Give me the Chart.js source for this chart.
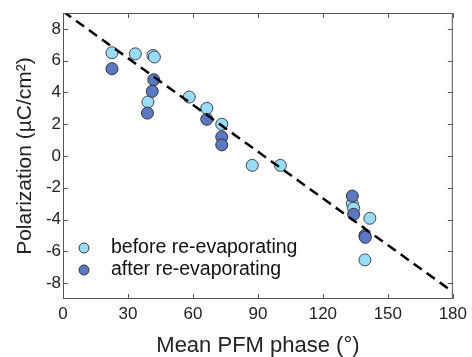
<!DOCTYPE html>
<html>
<head>
<meta charset="utf-8">
<script src="https://cdn.jsdelivr.net/npm/chart.js@4"></script>
<style>
  html, body { margin: 0; padding: 0; background: #fff; }
  #wrap { width: 472px; height: 357px; }
</style>
</head>
<body>
<div id="wrap"><canvas id="chart" width="472" height="357"></canvas></div>
<script>
// values
const beforeX = [22.6, 33.4, 41.5, 42.2, 39.2, 58.3, 66.4, 73.3, 87.4, 100.4, 133.6, 134.2, 141.7, 139.4];
const beforeY = [6.5, 6.43, 6.33, 6.23, 3.4, 3.71, 3.0, 2.0, -0.59, -0.59, -3.0, -3.29, -3.92, -6.54];
const afterX = [22.6, 41.9, 41.2, 39.0, 66.4, 73.3, 73.3, 133.6, 134.2, 139.4, 139.6];
const afterY = [5.49, 4.8, 4.07, 2.7, 2.31, 1.2, 0.7, -2.52, -3.67, -5.0, -5.12];
const fitX = [0, 180];
const fitY = [9.1, -8.55];
const xTicks = [0, 30, 60, 90, 120, 150, 180];
const yTicks = [-8, -6, -4, -2, 0, 2, 4, 6, 8];
const seriesNames = ["before re-evaporating", "after re-evaporating"];
const colors = ["#99dcf8", "#5d78c2"];

const pts = (xs, ys) => xs.map((x, i) => ({ x: x, y: ys[i] }));
const FONT = "'Liberation Sans', Arial, sans-serif";

// box + inward ticks on all four sides
const frameTicks = {
    id: "frameTicks",
    afterDatasetsDraw(chart) {
        const { ctx, chartArea: a, scales } = chart;
        ctx.save();
        ctx.strokeStyle = "#555";
        ctx.lineWidth = 1;
        ctx.strokeRect(a.left + 0.5, a.top + 0.5, a.right - a.left - 1, a.bottom - a.top - 1);
        const len = 5;
        ctx.beginPath();
        xTicks.forEach(v => {
            const px = Math.round(scales.x.getPixelForValue(v)) + 0.5;
            ctx.moveTo(px, a.bottom); ctx.lineTo(px, a.bottom - len);
            ctx.moveTo(px, a.top); ctx.lineTo(px, a.top + len);
        });
        yTicks.forEach(v => {
            const py = Math.round(scales.y.getPixelForValue(v)) + 0.5;
            ctx.moveTo(a.left, py); ctx.lineTo(a.left + len, py);
            ctx.moveTo(a.right, py); ctx.lineTo(a.right - len, py);
        });
        ctx.stroke();
        ctx.restore();
    },
};

// legend sits inside the plot, bottom left
const insideLegend = {
    id: "insideLegend",
    afterDraw(chart) {
        const ctx = chart.ctx;
        ctx.save();
        ctx.font = "19.5px " + FONT;
        ctx.textBaseline = "middle";
        seriesNames.forEach((name, i) => {
            const y = 248 + i * 22;
            ctx.beginPath();
            ctx.arc(84, y, 5, 0, Math.PI * 2);
            ctx.fillStyle = colors[i];
            ctx.fill();
            ctx.strokeStyle = "#333";
            ctx.lineWidth = 1;
            ctx.stroke();
            ctx.fillStyle = "#111";
            ctx.fillText(name, 111, y);
        });
        ctx.restore();
    },
};

new Chart(document.getElementById("chart"), {
    type: "scatter",
    data: {
        datasets: [
            {
                type: "line",
                data: pts(fitX, fitY),
                borderColor: "#000",
                borderWidth: 2.5,
                borderDash: [10, 6],
                pointRadius: 0,
                fill: false,
                order: 0,
            },
            {
                label: seriesNames[1],
                data: pts(afterX, afterY),
                backgroundColor: colors[1],
                borderColor: "#333",
                borderWidth: 1,
                pointRadius: 6,
                order: 1,
            },
            {
                label: seriesNames[0],
                data: pts(beforeX, beforeY),
                backgroundColor: colors[0],
                borderColor: "#444",
                borderWidth: 1,
                pointRadius: 6,
                order: 2,
            },
        ],
    },
    options: {
        responsive: false,
        animation: false,
        layout: { padding: { top: 13, right: 17, left: 0, bottom: 0 } },
        plugins: { legend: { display: false }, tooltip: { enabled: false } },
        scales: {
            x: {
                type: "linear",
                min: 0, max: 180,
                afterBuildTicks: s => { s.ticks = xTicks.map(v => ({ value: v })); },
                afterFit: s => { s.height = 58; },
                grid: { display: false, drawTicks: false, tickLength: 0 },
                border: { display: false },
                ticks: { color: "#222", font: { size: 17, family: FONT }, padding: 5 },
                title: { display: true, text: "Mean PFM phase (°)", color: "#222",
                         font: { size: 22, family: FONT, lineHeight: 1.0 }, padding: { top: 2, bottom: 0 } },
            },
            y: {
                type: "linear",
                min: -9, max: 9,
                afterBuildTicks: s => { s.ticks = yTicks.map(v => ({ value: v })); },
                afterFit: s => { s.width = 63; },
                grid: { display: false, drawTicks: false, tickLength: 0 },
                border: { display: false },
                ticks: { color: "#222", font: { size: 17, family: FONT }, padding: 2 },
                title: { display: true, text: "Polarization (µC/cm²)", color: "#222",
                         font: { size: 21, family: FONT }, padding: { top: 13, bottom: 0 } },
            },
        },
    },
    plugins: [frameTicks, insideLegend],
});
</script>
</body>
</html>
